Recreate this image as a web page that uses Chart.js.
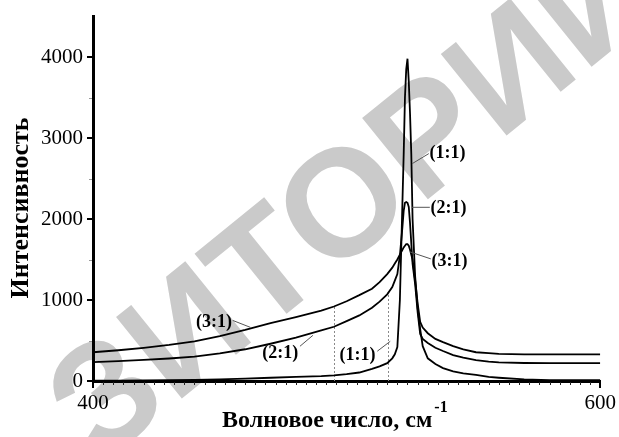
<!DOCTYPE html>
<html>
<head>
<meta charset="utf-8">
<script src="https://cdn.jsdelivr.net/npm/chart.js@4/dist/chart.umd.min.js"></script>
<style>
html,body{margin:0;padding:0;background:#fff;}
#wrap{width:619px;height:437px;position:relative;}
</style>
</head>
<body>
<div id="wrap"><canvas id="c" width="619" height="437"></canvas></div>
<script>
// ---- data ----
const waveNumbers = [400,410,420,430,440,450,460,470,480,490,495,500,505,510,513,516,518,519,520,521,522,522.5,523,523.5,524,524.5,525,525.5,526,527,528,529,530,532,535,538,542,546,551,556,560,570,580,590,600];
const ratio31 = [355,380,410,445,490,555,630,715,790,870,920,985,1060,1140,1220,1320,1400,1450,1500,1560,1620,1650,1670,1690,1690,1670,1620,1560,1500,1250,960,730,660,590,520,480,430,390,355,345,335,330,330,330,330];
const ratio21 = [233,245,260,278,300,340,392,460,535,625,670,740,810,905,980,1070,1160,1240,1320,1550,1900,2100,2200,2210,2200,2150,1950,1700,1450,1200,850,580,520,470,410,370,320,290,257,240,230,222,220,220,220];
const ratio11 = [5,5,8,10,15,20,30,40,50,60,70,85,105,150,180,220,280,330,420,1000,2200,2800,3500,3850,3980,3700,3300,2800,2000,1300,900,640,430,280,210,160,120,95,75,50,40,20,12,10,10];
const xTickLabels = [400,600];
const yTickLabels = [0,1000,2000,3000,4000];
const seriesNames = ['(3:1)','(2:1)','(1:1)'];
// label anchors in data units: [textX, textY, pointerFromX, pointerFromY, pointerToX, pointerToY]
const leftLabels = [[447.7,723,455.1,748,462.1,662],[473.8,340,481.6,429,486.7,564],[504.3,313,512.1,368,517.2,490]];
const rightLabels = [[540.6,1483,533.2,1508,525,1594],[540.2,2133,532.8,2145,525.8,2145],[539.8,2808,532.4,2808,525.9,2685]];
// dashed guide lines: [x, yTop]
const guides = [[495,920],[516.4,1070]];
const watermark = 'ЗИТОРИИ';

const toXY = arr => waveNumbers.map((x,i)=>({x:x,y:arr[i]}));

const serif = "'Liberation Serif','Times New Roman',serif";

const decor = {
  id:'decor',
  beforeDraw(chart){
    const ctx = chart.ctx;
    ctx.save();
    ctx.fillStyle='#fff'; ctx.fillRect(0,0,chart.width,chart.height);
    // watermark
    ctx.translate(358,202);
    ctx.rotate(-39*Math.PI/180);
    ctx.fillStyle = '#cacaca';
    ctx.font = "bold 152px 'Liberation Sans',Arial,sans-serif";
    ctx.textAlign='center'; ctx.textBaseline='middle';
    ctx.fillText(watermark,0,0);
    ctx.restore();
  },
  beforeDatasetsDraw(chart){
    const ctx = chart.ctx;
    const xs = chart.scales.x, ys = chart.scales.y;
    // dashed guides
    ctx.save();
    ctx.strokeStyle='#8a8a8a'; ctx.lineWidth=1; ctx.setLineDash([2,2]);
    guides.forEach(g=>{
      const px = Math.round(xs.getPixelForValue(g[0]))+0.5;
      ctx.beginPath(); ctx.moveTo(px, ys.getPixelForValue(0)); ctx.lineTo(px, ys.getPixelForValue(g[1])); ctx.stroke();
    });
    ctx.restore();
  },
  afterDraw(chart){
    const ctx = chart.ctx;
    const xs = chart.scales.x, ys = chart.scales.y;
    const ca = chart.chartArea;
    ctx.save();
    // minor ticks x
    ctx.strokeStyle='#222'; ctx.lineWidth=1;
    for(let v=404; v<600; v+=4){
      const px = Math.round(xs.getPixelForValue(v))+0.5;
      ctx.beginPath(); ctx.moveTo(px, ca.bottom+1); ctx.lineTo(px, ca.bottom+4); ctx.stroke();
    }
    // minor ticks y
    ctx.strokeStyle='#999';
    for(let v=500; v<4500; v+=1000){
      const py = Math.round(ys.getPixelForValue(v))+0.5;
      ctx.beginPath(); ctx.moveTo(ca.left-4, py); ctx.lineTo(ca.left-1, py); ctx.stroke();
    }
    // labels
    ctx.fillStyle='#000';
    ctx.font = "bold 18px "+serif;
    ctx.textAlign='center'; ctx.textBaseline='middle';
    const drawLab = (lab,name)=>{
      ctx.fillText(name, xs.getPixelForValue(lab[0]), ys.getPixelForValue(lab[1]));
      ctx.strokeStyle='#555'; ctx.lineWidth=1;
      ctx.beginPath();
      ctx.moveTo(xs.getPixelForValue(lab[2]), ys.getPixelForValue(lab[3]));
      ctx.lineTo(xs.getPixelForValue(lab[4]), ys.getPixelForValue(lab[5]));
      ctx.stroke();
    };
    leftLabels.forEach((l,i)=>drawLab(l,seriesNames[i]));
    rightLabels.forEach((l,i)=>drawLab(l,seriesNames[i]));
    // axis titles
    ctx.save();
    ctx.translate(21,208);
    ctx.rotate(-Math.PI/2);
    ctx.font = "bold 26px "+serif;
    ctx.textAlign='center'; ctx.textBaseline='middle';
    ctx.fillText('Интенсивность',0,0);
    ctx.restore();
    ctx.font = "bold 24px "+serif;
    ctx.textAlign='left'; ctx.textBaseline='alphabetic';
    ctx.fillText('Волновое число, см',222,427);
    const w = ctx.measureText('Волновое число, см').width;
    ctx.font = "bold 16px "+serif;
    ctx.fillText('-1',222+w+2,412);
    ctx.restore();
  }
};

new Chart(document.getElementById('c'),{
  type:'line',
  data:{datasets:[
    {label:seriesNames[0],data:toXY(ratio31)},
    {label:seriesNames[1],data:toXY(ratio21)},
    {label:seriesNames[2],data:toXY(ratio11)}
  ].map(d=>Object.assign(d,{borderColor:'#000',borderWidth:1.8,pointRadius:0,tension:0,fill:false}))},
  options:{
    responsive:false,animation:false,
    layout:{padding:{top:14,right:14,left:0,bottom:0}},
    plugins:{legend:{display:false},tooltip:{enabled:false}},
    scales:{
      x:{type:'linear',min:400,max:600,
        afterBuildTicks:s=>{s.ticks=xTickLabels.map(v=>({value:v}));},
        afterFit:s=>{s.height=56;},
        border:{display:true,color:'#000',width:3},
        grid:{drawOnChartArea:false,drawTicks:true,tickLength:7,color:'#000',lineWidth:2},
        ticks:{color:'#000',font:{family:serif,size:21},padding:3,maxRotation:0,
          callback:v=>String(v)}
      },
      y:{min:0,max:4500,
        afterBuildTicks:s=>{s.ticks=yTickLabels.map(v=>({value:v}));},
        afterFit:s=>{s.width=93;},
        border:{display:true,color:'#000',width:3},
        grid:{drawOnChartArea:false,drawTicks:true,tickLength:6,color:'#000',lineWidth:2},
        ticks:{color:'#000',font:{family:serif,size:21},padding:4,callback:v=>String(v)}
      }
    }
  },
  plugins:[decor]
});
</script>
</body>
</html>
